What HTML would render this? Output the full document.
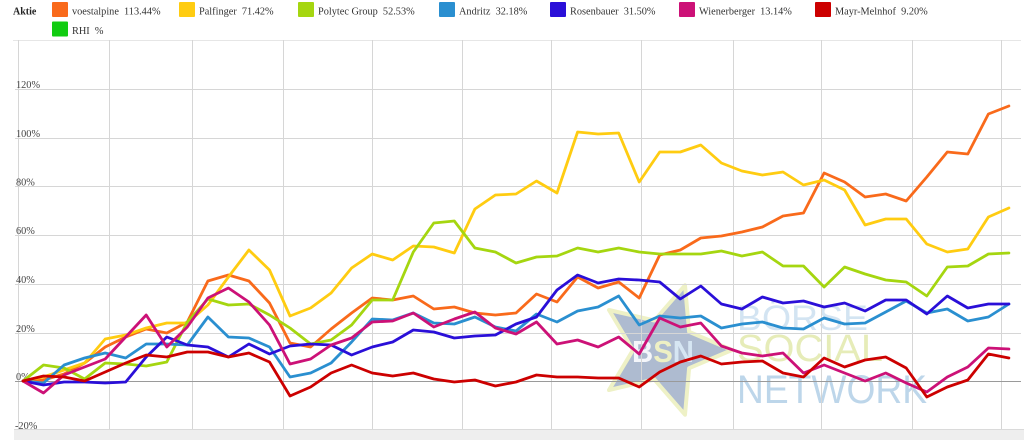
<!DOCTYPE html>
<html>
<head>
<meta charset="utf-8">
<style>
  html, body { margin: 0; padding: 0; background: #ffffff; }
  body { width: 1024px; height: 440px; overflow: hidden; }
  svg { display: block; }
  .lg { font-family: "Liberation Serif", serif; font-size: 10.3px; fill: #333333; }
  .yl { font-family: "Liberation Serif", serif; font-size: 10.3px; fill: #444444; }
  .ln { fill: none; stroke-width: 2.8; stroke-linejoin: round; stroke-linecap: round; }
</style>
</head>
<body>
<svg width="1024" height="440" viewBox="0 0 1024 440" xmlns="http://www.w3.org/2000/svg">
  <rect x="0" y="0" width="1024" height="440" fill="#ffffff"/>

  <!-- Legend -->
  <text x="13" y="14.5" class="lg" style="font-weight:bold;font-size:10px;fill:#222">Aktie</text>

  <rect x="52" y="2" width="16" height="15" rx="1" fill="#f96a1b"/>
  <text x="72" y="14.5" class="lg">voestalpine&#160;&#160;113.44%</text>

  <rect x="179" y="2" width="16" height="15" rx="1" fill="#ffcc11"/>
  <text x="199" y="14.5" class="lg">Palfinger&#160;&#160;71.42%</text>

  <rect x="298" y="2" width="16" height="15" rx="1" fill="#a5d610"/>
  <text x="318" y="14.5" class="lg">Polytec Group&#160;&#160;52.53%</text>

  <rect x="439" y="2" width="16" height="15" rx="1" fill="#2a8fd0"/>
  <text x="459" y="14.5" class="lg">Andritz&#160;&#160;32.18%</text>

  <rect x="550" y="2" width="16" height="15" rx="1" fill="#2a0fd8"/>
  <text x="570" y="14.5" class="lg">Rosenbauer&#160;&#160;31.50%</text>

  <rect x="679" y="2" width="16" height="15" rx="1" fill="#cc1177"/>
  <text x="699" y="14.5" class="lg">Wienerberger&#160;&#160;13.14%</text>

  <rect x="815" y="2" width="16" height="15" rx="1" fill="#cc0000"/>
  <text x="835" y="14.5" class="lg">Mayr-Melnhof&#160;&#160;9.20%</text>

  <rect x="52" y="21.5" width="16" height="15" rx="1" fill="#11cc11"/>
  <text x="72" y="34" class="lg">RHI&#160;&#160;%</text>

  <!-- Watermark -->
  <g>
    <polygon points="732,350 689.1,368.2 685,414.7 654.4,379.5 609,390 633,350 609,310 654.4,320.5 685,285.3 689.1,331.8"
             fill="#aebbd0" stroke="#eef1c6" stroke-width="4" stroke-linejoin="round"/>
    <text x="632" y="362" font-family="Liberation Sans, sans-serif" font-weight="bold" font-size="31" textLength="62" lengthAdjust="spacingAndGlyphs"><tspan fill="#f4f6fa">B</tspan><tspan fill="#eef0c4">S</tspan><tspan fill="#d6e6f3">N</tspan></text>
    <text x="737" y="330" font-family="Liberation Sans, sans-serif" font-size="35" fill="#d3e4f2" textLength="131" lengthAdjust="spacingAndGlyphs">BÖRSE</text>
    <text x="737" y="361" font-family="Liberation Sans, sans-serif" font-size="38" fill="#e6ecb8" textLength="146" lengthAdjust="spacingAndGlyphs">SOCIAL</text>
    <text x="737" y="403" font-family="Liberation Sans, sans-serif" font-size="40" fill="#bdd6ea" textLength="190" lengthAdjust="spacingAndGlyphs">NETWORK</text>
  </g>

  <!-- Grid -->
  <g stroke="#d6d6d6" stroke-width="1">
    <line x1="13" y1="40.5" x2="1021" y2="40.5" stroke="#e6e6e6"/>
    <line x1="15" y1="89.5" x2="1021" y2="89.5"/>
    <line x1="15" y1="138.5" x2="1021" y2="138.5"/>
    <line x1="15" y1="186.5" x2="1021" y2="186.5"/>
    <line x1="15" y1="235.5" x2="1021" y2="235.5"/>
    <line x1="15" y1="284.5" x2="1021" y2="284.5"/>
    <line x1="15" y1="333.5" x2="1021" y2="333.5"/>
    <line x1="18.5" y1="40" x2="18.5" y2="429"/>
    <line x1="109.5" y1="40" x2="109.5" y2="429"/>
    <line x1="192.5" y1="40" x2="192.5" y2="429"/>
    <line x1="283.5" y1="40" x2="283.5" y2="429"/>
    <line x1="372.5" y1="40" x2="372.5" y2="429"/>
    <line x1="462.5" y1="40" x2="462.5" y2="429"/>
    <line x1="551.5" y1="40" x2="551.5" y2="429"/>
    <line x1="641.5" y1="40" x2="641.5" y2="429"/>
    <line x1="733.5" y1="40" x2="733.5" y2="429"/>
    <line x1="821.5" y1="40" x2="821.5" y2="429"/>
    <line x1="912.5" y1="40" x2="912.5" y2="429"/>
    <line x1="1001.5" y1="40" x2="1001.5" y2="429"/>
    <line x1="15" y1="381.5" x2="1021" y2="381.5" stroke="#9a9a9a"/>
  </g>

  <!-- Bottom band -->
  <rect x="14" y="429" width="1010" height="11" fill="#eeeeee"/>
  <line x1="14" y1="429.5" x2="1024" y2="429.5" stroke="#dadada"/>

  <!-- Y labels -->
  <text x="16" y="88" class="yl">120%</text>
  <text x="16" y="137" class="yl">100%</text>
  <text x="16" y="185.5" class="yl">80%</text>
  <text x="16" y="234" class="yl">60%</text>
  <text x="16" y="283" class="yl">40%</text>
  <text x="16" y="332" class="yl">20%</text>
  <text x="16" y="380" class="yl">0%</text>
  <text x="15" y="429" class="yl">-20%</text>

  <!-- Series -->
  <polyline class="ln" stroke="#f96a1b" points="23,381 43.5,380 64.1,374 84.6,363 105.2,347 125.7,337 146.2,329 166.8,333 187.3,322 207.9,281 228.4,275 248.9,281 269.5,303 290,343 310.6,347 331.1,329 351.6,313 372.2,298 392.7,300 413.3,296 433.8,309 454.3,307 474.9,313 495.4,315 516,313 536.5,294 557,302 577.6,277 598.1,288 618.7,282 639.2,298 659.7,255 680.3,250 700.8,238 721.4,236 741.9,232 762.4,227 783,216 803.5,213 824.1,173 844.6,182 865.1,197 885.7,194 906.2,201 926.8,177 947.3,152 967.8,154 988.4,114 1008.9,106"/>

  <polyline class="ln" stroke="#ffcc11" points="23,381 43.5,377 64.1,370 84.6,363 105.2,339 125.7,335 146.2,328 166.8,323 187.3,323 207.9,305 228.4,277 248.9,250 269.5,270 290,316 310.6,308 331.1,293 351.6,268 372.2,254 392.7,260 413.3,246 433.8,247 454.3,253 474.9,209 495.4,195 516,194 536.5,181 557,193 577.6,132 598.1,134 618.7,133 639.2,182 659.7,152 680.3,152 700.8,145 721.4,163 741.9,171 762.4,175 783,172 803.5,185 824.1,180 844.6,190 865.1,225 885.7,219 906.2,219 926.8,244 947.3,252 967.8,249 988.4,217 1008.9,208"/>

  <polyline class="ln" stroke="#a5d610" points="23,381 43.5,365 64.1,368 84.6,379 105.2,363 125.7,364 146.2,366 166.8,362 187.3,322 207.9,299 228.4,305 248.9,304 269.5,315 290,328 310.6,344 331.1,340 351.6,325 372.2,300 392.7,300 413.3,252 433.8,223 454.3,221 474.9,248 495.4,252 516,263 536.5,257 557,256 577.6,248 598.1,252 618.7,248 639.2,252 659.7,254 680.3,254 700.8,254 721.4,251 741.9,256 762.4,252 783,266 803.5,266 824.1,287 844.6,267 865.1,274 885.7,280 906.2,282 926.8,296 947.3,267 967.8,266 988.4,254 1008.9,253"/>

  <polyline class="ln" stroke="#2a8fd0" points="23,381 43.5,383 64.1,365 84.6,358 105.2,353 125.7,358 146.2,344 166.8,344 187.3,345 207.9,317 228.4,337 248.9,338 269.5,347 290,377 310.6,373 331.1,363 351.6,342 372.2,319 392.7,320 413.3,313 433.8,323 454.3,324 474.9,317 495.4,327 516,331 536.5,314 557,322 577.6,311 598.1,307 618.7,296 639.2,325 659.7,316 680.3,318 700.8,316 721.4,328 741.9,324 762.4,322 783,328 803.5,329 824.1,318 844.6,324 865.1,323 885.7,312 906.2,301 926.8,313 947.3,309 967.8,321 988.4,317 1008.9,304"/>

  <polyline class="ln" stroke="#2a0fd8" points="23,381 43.5,385 64.1,382 84.6,382 105.2,383 125.7,382 146.2,357 166.8,337 187.3,345 207.9,347 228.4,357 248.9,344 269.5,354 290,346 310.6,344 331.1,345 351.6,355 372.2,347 392.7,342 413.3,330 433.8,332 454.3,338 474.9,336 495.4,335 516,324 536.5,317 557,290 577.6,275 598.1,283 618.7,279 639.2,280 659.7,282 680.3,299 700.8,286 721.4,304 741.9,309 762.4,297 783,303 803.5,301 824.1,307 844.6,303 865.1,311 885.7,300 906.2,300 926.8,314 947.3,296 967.8,308 988.4,304 1008.9,304"/>

  <polyline class="ln" stroke="#cc1177" points="23,381 43.5,393 64.1,375 84.6,367 105.2,359 125.7,337 146.2,315 166.8,347 187.3,327 207.9,298 228.4,288 248.9,302 269.5,325 290,364 310.6,359 331.1,345 351.6,338 372.2,322 392.7,321 413.3,313 433.8,327 454.3,319 474.9,312 495.4,328 516,334 536.5,322 557,344 577.6,340 598.1,347 618.7,337 639.2,354 659.7,318 680.3,327 700.8,323 721.4,346 741.9,353 762.4,356 783,353 803.5,373 824.1,365 844.6,373 865.1,381 885.7,373 906.2,383 926.8,392 947.3,377 967.8,367 988.4,348 1008.9,349"/>

  <polyline class="ln" stroke="#cc0000" points="23,381 43.5,376 64.1,377 84.6,381 105.2,372 125.7,363 146.2,355 166.8,357 187.3,352 207.9,352 228.4,357 248.9,353 269.5,362 290,396 310.6,387 331.1,373 351.6,365 372.2,373 392.7,376 413.3,373 433.8,379 454.3,382 474.9,380 495.4,386 516,382 536.5,375 557,377 577.6,377 598.1,378 618.7,378 639.2,387 659.7,372 680.3,362 700.8,356 721.4,364 741.9,362 762.4,361 783,373 803.5,377 824.1,358 844.6,367 865.1,360 885.7,357 906.2,368 926.8,397 947.3,387 967.8,380 988.4,354 1008.9,358"/>
</svg>
</body>
</html>
